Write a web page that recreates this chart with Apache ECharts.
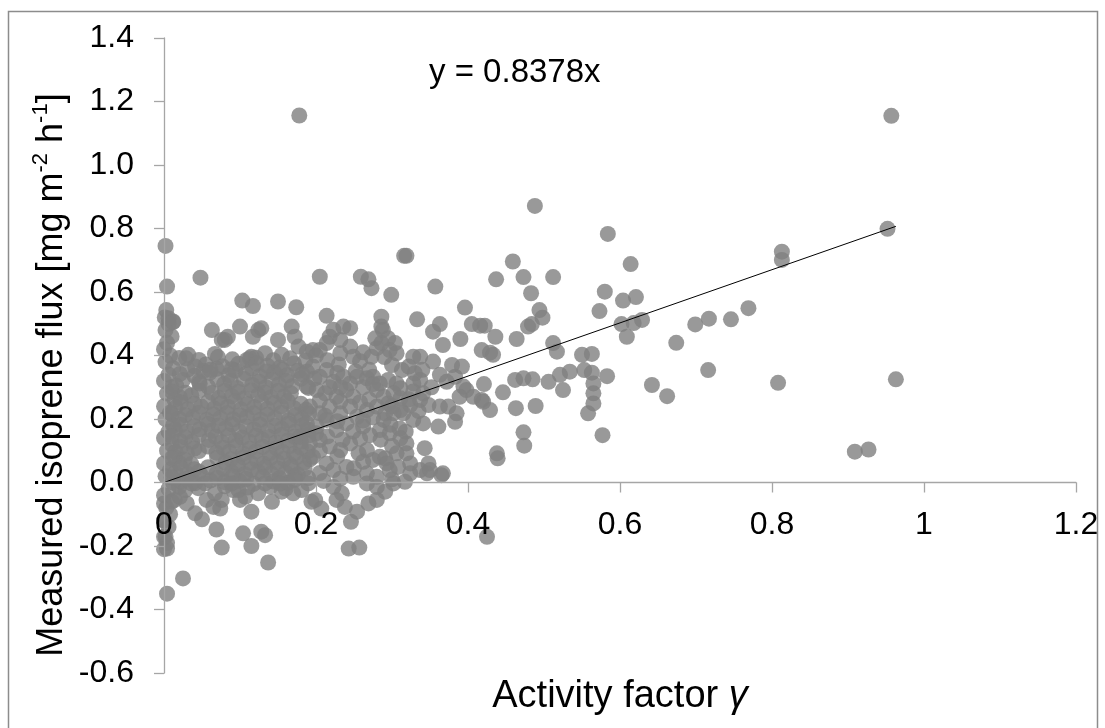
<!DOCTYPE html>
<html>
<head>
<meta charset="utf-8">
<script src="https://cdn.jsdelivr.net/npm/echarts@6/dist/echarts.min.js"></script>
<style>
  html, body { margin: 0; padding: 0; background: #fff; }
  #chart { width: 1105px; height: 728px; }
</style>
</head>
<body>
<div id="chart"></div>
<script>
// ---- Data: [activity factor gamma, measured isoprene flux] ----
const xTickLabels = ['0', '0.2', '0.4', '0.6', '0.8', '1', '1.2'];
const yTickLabels = ['-0.6', '-0.4', '-0.2', '0.0', '0.2', '0.4', '0.6', '0.8', '1.0', '1.2', '1.4'];
const trendSlope = 0.8378;
const trendX = [0, 0.963];

// points hugging gamma = 0
const columnPoints = [
  [0.000,-0.21],[0.004,-0.19],[0.002,-0.17],[0.006,-0.14],[0.000,-0.12],[0.008,-0.10],[0.003,-0.08],
  [0.010,-0.06],[0.000,-0.04],[0.006,-0.02],[0.012,0.00],[0.002,0.02],[0.008,0.04],[0.000,0.06],
  [0.014,0.08],[0.004,0.10],[0.010,0.12],[0.000,0.14],[0.006,0.16],[0.012,0.18],[0.002,0.20],
  [0.008,0.22],[0.000,0.24],[0.014,0.26],[0.004,0.28],[0.010,0.30],[0.000,0.32],[0.006,0.34],
  [0.012,0.36],[0.002,0.38],[0.008,0.40],[0.000,0.42],[0.004,0.44],[0.010,0.46],[0.002,0.48],
  [0.006,0.50],[0.001,0.52],[0.012,0.505],[0.003,0.543],[0.006,0.517],[0.012,0.507],
  [0.004,0.617],[0.002,0.745],[0.000,-0.171],[0.000,-0.119],[0.000,-0.066],[0.004,-0.208],[0.004,-0.350]
];

// dense cluster at low gamma
const corePoints = [
  [0.055,0.372],[0.077,0.366],[0.098,0.374],[0.136,0.368],[0.152,0.362],[0.171,0.375],
  [0.021,0.342],[0.040,0.336],[0.060,0.345],[0.085,0.338],[0.108,0.343],[0.126,0.335],[0.145,0.346],[0.162,0.338],[0.182,0.341],
  [0.016,0.305],[0.058,0.302],[0.079,0.310],[0.096,0.298],[0.116,0.307],[0.134,0.300],[0.151,0.309],[0.169,0.303],[0.190,0.298],
  [0.021,0.268],[0.036,0.274],[0.072,0.266],[0.089,0.272],[0.106,0.265],[0.124,0.275],[0.141,0.268],[0.158,0.271],
  [0.015,0.236],[0.031,0.231],[0.049,0.239],[0.066,0.233],[0.084,0.238],[0.101,0.230],[0.119,0.237],[0.136,0.232],[0.154,0.240],[0.171,0.234],[0.187,0.229],
  [0.020,0.200],[0.038,0.205],[0.056,0.197],[0.074,0.203],[0.091,0.199],[0.109,0.206],[0.127,0.198],[0.146,0.203],[0.164,0.196],[0.181,0.201],
  [0.014,0.166],[0.030,0.161],[0.047,0.168],[0.063,0.163],[0.081,0.170],[0.099,0.162],[0.118,0.167],[0.137,0.164],[0.155,0.169],[0.173,0.161],[0.190,0.166],
  [0.021,0.131],[0.037,0.128],[0.059,0.134],[0.076,0.127],[0.094,0.133],[0.112,0.129],[0.129,0.136],[0.147,0.126],[0.163,0.132],[0.180,0.129],
  [0.015,0.096],[0.030,0.092],[0.046,0.099],[0.069,0.094],[0.086,0.097],[0.104,0.091],[0.121,0.098],[0.139,0.093],[0.156,0.096],[0.171,0.090],[0.189,0.098],
  [0.020,0.061],[0.036,0.058],[0.081,0.063],[0.097,0.057],[0.114,0.062],[0.131,0.059],[0.149,0.064],[0.166,0.057],[0.184,0.062],
  [0.015,0.031],[0.031,0.027],[0.046,0.034],[0.069,0.029],[0.089,0.032],[0.106,0.026],[0.124,0.033],[0.141,0.028],[0.160,0.031],[0.176,0.025],
  [0.022,0.004],[0.041,-0.002],[0.061,0.006],[0.080,0.001],[0.099,0.005],[0.118,-0.004],[0.144,0.003],[0.163,-0.001]
];

// further points filling the dense cluster
const coreFillPoints = [
  [0.020,0.392],[0.046,0.386],[0.071,0.395],[0.090,0.388],[0.121,0.393],[0.144,0.385],[0.166,0.391],[0.186,0.384],
  [0.031,0.356],[0.052,0.351],[0.069,0.358],[0.094,0.353],[0.116,0.359],[0.135,0.350],[0.156,0.355],[0.176,0.352],
  [0.025,0.322],[0.046,0.318],[0.070,0.325],[0.088,0.319],[0.105,0.326],[0.125,0.317],[0.142,0.323],[0.161,0.320],[0.180,0.327],
  [0.010,0.287],[0.028,0.283],[0.046,0.289],[0.063,0.282],[0.080,0.288],[0.098,0.285],[0.115,0.290],[0.133,0.283],[0.150,0.288],[0.167,0.281],
  [0.022,0.252],[0.040,0.248],[0.058,0.254],[0.075,0.249],[0.093,0.255],[0.110,0.247],[0.128,0.253],[0.145,0.250],[0.163,0.256],[0.180,0.248],
  [0.010,0.216],[0.028,0.212],[0.046,0.219],[0.065,0.214],[0.083,0.218],[0.100,0.211],[0.118,0.217],[0.136,0.213],[0.155,0.219],[0.173,0.212],[0.191,0.217],
  [0.022,0.181],[0.040,0.177],[0.058,0.184],[0.072,0.179],[0.090,0.183],[0.108,0.176],[0.126,0.182],[0.146,0.178],[0.164,0.185],[0.182,0.179],
  [0.010,0.146],[0.028,0.142],[0.046,0.149],[0.068,0.144],[0.085,0.148],[0.103,0.141],[0.121,0.147],[0.138,0.143],[0.155,0.150],[0.172,0.144],[0.190,0.148],
  [0.022,0.111],[0.040,0.107],[0.058,0.113],[0.078,0.109],[0.095,0.114],[0.113,0.106],[0.130,0.112],[0.148,0.108],[0.165,0.115],[0.180,0.110],
  [0.010,0.076],[0.027,0.072],[0.070,0.078],[0.088,0.073],[0.105,0.079],[0.122,0.071],[0.140,0.077],[0.158,0.074],[0.175,0.080],[0.192,0.073],
  [0.022,0.046],[0.040,0.042],[0.058,0.048],[0.078,0.044],[0.097,0.049],[0.115,0.041],[0.133,0.047],[0.150,0.043],[0.168,0.049],[0.185,0.044],
  [0.010,0.016],[0.030,0.012],[0.050,0.019],[0.070,0.014],[0.090,0.018],[0.108,0.011],[0.130,0.017],[0.152,0.013],[0.172,0.019],[0.190,0.014],
  [0.020,-0.014],[0.045,-0.018],[0.080,-0.012],[0.110,-0.016],[0.140,-0.013],[0.160,-0.019]
];

// upper fringe of the cluster
const upperPoints = [
  [0.032,0.402],[0.029,0.391],[0.041,0.365],[0.063,0.480],[0.080,0.449],[0.084,0.459],[0.067,0.405],
  [0.100,0.491],[0.117,0.459],[0.124,0.480],[0.128,0.486],[0.113,0.391],[0.115,0.396],[0.133,0.407],
  [0.150,0.449],[0.168,0.491],[0.172,0.459],[0.177,0.428],[0.155,0.402],[0.188,0.412],[0.061,0.355],
  [0.047,0.312],[0.089,0.357],[0.109,0.386],[0.122,0.375],[0.076,0.449],[0.048,0.645],[0.103,0.573],
  [0.117,0.556],[0.150,0.570],[0.174,0.552],[0.178,1.156]
];

// intermediate gamma (about 0.18 - 0.45)
const midPoints = [
  [0.286,0.522],[0.286,0.491],[0.223,0.481],[0.236,0.491],[0.245,0.486],[0.218,0.459],[0.232,0.449],
  [0.214,0.439],[0.205,0.417],[0.196,0.417],[0.245,0.428],[0.232,0.407],[0.249,0.396],[0.278,0.454],
  [0.295,0.454],[0.304,0.439],[0.280,0.423],[0.297,0.417],[0.306,0.407],[0.273,0.396],[0.328,0.396],
  [0.322,0.365],[0.313,0.354],[0.330,0.344],[0.188,0.349],[0.196,0.365],[0.205,0.333],[0.214,0.354],
  [0.223,0.317],[0.236,0.333],[0.245,0.312],[0.254,0.333],[0.267,0.328],[0.275,0.333],[0.284,0.312],
  [0.295,0.323],[0.306,0.312],[0.311,0.297],[0.363,0.339],[0.372,0.317],[0.383,0.333],[0.398,0.291],
  [0.188,0.302],[0.201,0.291],[0.212,0.281],[0.227,0.270],[0.240,0.291],[0.249,0.270],[0.280,0.291],
  [0.289,0.270],[0.295,0.249],[0.311,0.265],[0.324,0.244],[0.337,0.260],[0.348,0.244],[0.363,0.239],
  [0.374,0.239],[0.385,0.218],[0.407,0.270],[0.418,0.260],[0.192,0.239],[0.205,0.218],[0.218,0.239],
  [0.232,0.218],[0.245,0.239],[0.254,0.207],[0.267,0.228],[0.280,0.239],[0.289,0.197],[0.302,0.218],
  [0.315,0.218],[0.328,0.197],[0.341,0.186],[0.188,0.186],[0.201,0.176],[0.214,0.197],[0.227,0.165],
  [0.240,0.186],[0.249,0.160],[0.262,0.176],[0.271,0.149],[0.284,0.165],[0.297,0.155],[0.319,0.123],
  [0.179,0.144],[0.192,0.123],[0.205,0.134],[0.218,0.113],[0.232,0.102],[0.245,0.123],[0.256,0.092],
  [0.267,0.102],[0.275,0.071],[0.284,0.081],[0.293,0.060],[0.306,0.092],[0.308,0.049],[0.324,0.029],
  [0.196,0.081],[0.214,0.060],[0.223,0.039],[0.240,0.049],[0.249,0.018],[0.267,0.029],[0.280,0.018],
  [0.291,0.218],[0.311,0.228],[0.389,0.270],[0.394,0.302],[0.420,0.254],[0.337,0.323],[0.328,0.312],
  [0.302,0.281],[0.286,0.439],[0.328,0.287],[0.341,0.281],[0.337,0.039],[0.288,0.480]
];

// extra points in the 0.2 - 0.35 band
const midFillPoints = [
  [0.200,0.400],[0.215,0.385],[0.230,0.372],[0.258,0.382],[0.262,0.410],[0.290,0.395],[0.300,0.370],
  [0.270,0.355],[0.228,0.345],[0.252,0.350],[0.198,0.327],[0.262,0.300],[0.275,0.310],[0.232,0.300],
  [0.218,0.300],[0.258,0.253],[0.232,0.255],[0.205,0.258],[0.270,0.262],[0.300,0.240],[0.322,0.262],
  [0.212,0.210],[0.228,0.193],[0.262,0.195],[0.275,0.205],[0.298,0.182],[0.310,0.170],[0.200,0.155],
  [0.215,0.145],[0.258,0.138],[0.235,0.135],[0.285,0.135],[0.300,0.115],[0.205,0.100],[0.228,0.082],
  [0.262,0.065],[0.250,0.045],[0.205,0.030],[0.232,0.012],[0.210,0.005],[0.300,0.010],[0.318,0.160],
  [0.335,0.225],[0.352,0.300],[0.340,0.355]
];

// values at or below zero
const lowPoints = [
  [0.025,-0.302],[0.076,-0.205],[0.115,-0.200],[0.137,-0.252],[0.104,-0.160],[0.128,-0.155],[0.133,-0.166],
  [0.069,-0.148],[0.041,-0.097],[0.050,-0.116],[0.243,-0.208],[0.257,-0.205],[0.246,-0.124],[0.238,-0.077],
  [0.254,-0.092],[0.115,-0.092],[0.074,-0.082],[0.142,-0.061],[0.194,-0.061],[0.207,-0.082],[0.269,-0.066],
  [0.280,-0.055],[0.291,-0.029],[0.302,-0.003],[0.317,0.002],[0.346,0.029],[0.365,0.023],[0.223,-0.014],
  [0.234,-0.034],[0.181,-0.024],[0.190,-0.003],[0.172,0.008],[0.098,-0.024],[0.107,-0.045],[0.067,-0.034],
  [0.076,-0.055],[0.028,-0.024],[0.014,-0.055],[0.124,-0.034],[0.133,-0.003],[0.155,-0.029],[0.036,-0.003],
  [0.054,-0.003],[0.089,-0.003],[0.199,-0.055],[0.267,-0.003],[0.280,-0.014],[0.227,-0.055],[0.153,-0.003],
  [0.170,-0.034],[0.091,-0.024],[0.100,-0.055],[0.021,-0.045],[0.030,-0.066],[0.056,-0.055],[0.065,-0.077],
  [0.425,-0.171]
];

// sparse points at higher gamma
const sparsePoints = [
  [0.957,1.155],[0.488,0.871],[0.584,0.783],[0.952,0.799],[0.813,0.727],[0.813,0.701],[0.319,0.714],
  [0.459,0.696],[0.614,0.688],[0.437,0.640],[0.473,0.647],[0.512,0.647],[0.357,0.617],[0.483,0.596],
  [0.580,0.601],[0.604,0.573],[0.621,0.584],[0.573,0.540],[0.396,0.551],[0.494,0.543],[0.498,0.519],
  [0.484,0.499],[0.479,0.491],[0.333,0.514],[0.363,0.499],[0.354,0.475],[0.405,0.499],[0.416,0.494],
  [0.422,0.494],[0.436,0.459],[0.464,0.452],[0.390,0.452],[0.367,0.433],[0.602,0.499],[0.618,0.502],
  [0.629,0.512],[0.609,0.459],[0.674,0.440],[0.512,0.439],[0.517,0.412],[0.418,0.417],[0.429,0.409],
  [0.433,0.402],[0.550,0.402],[0.563,0.405],[0.337,0.396],[0.354,0.381],[0.379,0.370],[0.392,0.365],
  [0.553,0.354],[0.563,0.346],[0.583,0.335],[0.462,0.323],[0.473,0.328],[0.485,0.325],[0.506,0.317],
  [0.521,0.339],[0.534,0.349],[0.525,0.291],[0.565,0.312],[0.565,0.281],[0.565,0.249],[0.558,0.218],
  [0.642,0.307],[0.662,0.272],[0.446,0.284],[0.421,0.310],[0.463,0.234],[0.489,0.241],[0.473,0.158],
  [0.474,0.116],[0.577,0.149],[0.438,0.092],[0.439,0.076],[0.383,0.191],[0.361,0.176],[0.343,0.108],
  [0.367,0.029],[0.348,0.060],[0.350,0.039],[0.311,0.139],[0.319,0.092],[0.324,0.060],[0.291,0.076],
  [0.297,0.039],[0.429,0.228],[0.769,0.549],[0.746,0.514],[0.717,0.516],[0.699,0.498],[0.716,0.354],
  [0.808,0.314],[0.963,0.325],[0.909,0.097],[0.927,0.104],[0.299,0.591],[0.205,0.648],[0.259,0.648],
  [0.269,0.640],[0.273,0.612],[0.214,0.525],[0.316,0.714]
];

const allPoints = [].concat(columnPoints, corePoints, coreFillPoints, upperPoints, midPoints, midFillPoints, lowPoints, sparsePoints);
const trendLine = trendX.map(function (x) { return [x, trendSlope * x]; });

const FONT = 'Liberation Sans, Arial, sans-serif';
const chart = echarts.init(document.getElementById('chart'), null, { renderer: 'canvas' });
chart.setOption({
  backgroundColor: '#ffffff',
  animation: false,
  grid: { left: 164, right: 29, top: 38, bottom: 55, containLabel: false, outerBoundsMode: 'none' },
  xAxis: {
    type: 'value', min: 0, max: 1.2, interval: 0.2,
    position: 'bottom', offset: -190.5, z: 10,
    axisLine: { onZero: false, lineStyle: { color: '#a6a6a6', width: 1.3 } },
    axisTick: { show: true, length: 10, lineStyle: { color: '#a6a6a6', width: 1.3 } },
    splitLine: { show: false },
    axisLabel: {
      margin: 27, color: '#000', fontSize: 32, fontFamily: FONT,
      formatter: function (v) { return xTickLabels[Math.round(v / 0.2)]; }
    },
    name: '{n|Activity factor }{g|γ}',
    nameLocation: 'middle', nameGap: 195,
    nameTextStyle: {
      rich: {
        n: { fontSize: 38, color: '#000', fontFamily: FONT },
        g: { fontSize: 38, color: '#000', fontFamily: FONT, fontStyle: 'italic' }
      }
    }
  },
  yAxis: {
    type: 'value', min: -0.6, max: 1.4, interval: 0.2, z: 10,
    axisLine: { show: true, onZero: false, lineStyle: { color: '#a6a6a6', width: 1.3 } },
    axisTick: { show: true, length: 10, lineStyle: { color: '#a6a6a6', width: 1.3 } },
    splitLine: { show: false },
    axisLabel: {
      margin: 30, color: '#000', fontSize: 32, fontFamily: FONT,
      formatter: function (v) { return yTickLabels[Math.round((v + 0.6) / 0.2)]; }
    }
  },
  graphic: [
    {
      type: 'rect', silent: true, z: -10,
      shape: { x: 8.5, y: 11.5, width: 1089, height: 740 },
      style: { fill: 'none', stroke: '#8c8c8c', lineWidth: 1.5 }
    },
    {
      type: 'text', left: 429, top: 56, silent: true,
      style: { text: 'y = 0.8378x', font: '33px ' + FONT, fill: '#000' }
    },
    {
      type: 'text', x: 50, y: 375, rotation: Math.PI / 2, silent: true,
      style: {
        text: '{a|Measured isoprene flux [mg m}{s|-2}{a| h}{s|-1}{a|]}',
        align: 'center', verticalAlign: 'middle',
        rich: {
          a: { fontSize: 36, fontFamily: FONT, fill: '#000', lineHeight: 40, verticalAlign: 'bottom' },
          s: { fontSize: 22, fontFamily: FONT, fill: '#000', lineHeight: 40, verticalAlign: 'top' }
        }
      }
    }
  ],
  series: [
    {
      type: 'scatter', data: allPoints, symbol: 'circle', symbolSize: 16,
      itemStyle: { color: '#808080' }, z: 2
    },
    {
      type: 'line', data: trendLine, showSymbol: false, symbol: 'none',
      lineStyle: { color: '#000', width: 1 }, z: 5, silent: true
    }
  ]
});
</script>
</body>
</html>
